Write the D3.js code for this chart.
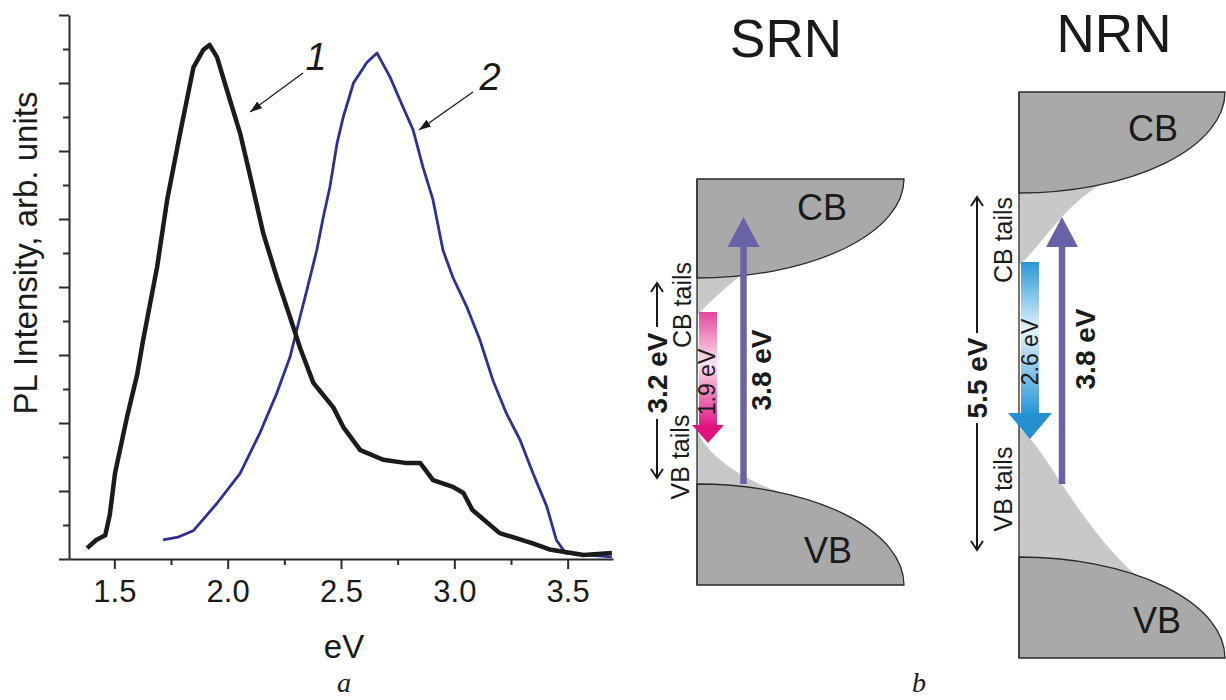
<!DOCTYPE html>
<html>
<head>
<meta charset="utf-8">
<script src="https://cdn.jsdelivr.net/npm/d3@7"></script>
<style>
  body { margin: 0; background: #fff; }
  text { font-family: "Liberation Sans", Arial, sans-serif; fill: #1a1a1a; }
</style>
</head>
<body>
<script>
//////////////////////////////////////////////////////////////////////////////
// Data

// curve 1 (black)
var eV1 = [1.38, 1.42, 1.46, 1.48, 1.503, 1.556, 1.60, 1.627, 1.689, 1.733,
           1.79, 1.849, 1.893, 1.92, 1.953, 2.01, 2.055, 2.1, 2.157, 2.217,
           2.275, 2.32, 2.378, 2.41, 2.466, 2.51, 2.585, 2.686, 2.79, 2.85,
           2.906, 2.994, 3.04, 3.08, 3.2, 3.346, 3.42, 3.57, 3.695];
var pl1 = [0.16, 0.28, 0.35, 0.65, 1.26, 2.09, 2.70, 3.22, 4.30, 5.28,
           6.26, 7.23, 7.49, 7.56, 7.38, 6.75, 6.26, 5.62, 4.79, 4.14,
           3.56, 3.10, 2.59, 2.46, 2.23, 1.94, 1.60, 1.46, 1.41, 1.41,
           1.16, 1.06, 0.97, 0.72, 0.38, 0.23, 0.14, 0.06, 0.09];

// curve 2 (blue)
var eV2 = [1.715, 1.78, 1.85, 1.953, 2.055, 2.143, 2.217, 2.275, 2.32, 2.35,
           2.393, 2.422, 2.451, 2.483, 2.51, 2.555, 2.614, 2.659, 2.716, 2.76,
           2.818, 2.862, 2.906, 2.95, 2.994, 3.056, 3.113, 3.17, 3.23, 3.29,
           3.347, 3.408, 3.45, 3.49, 3.57, 3.695];
var pl2 = [0.28, 0.32, 0.42, 0.82, 1.26, 1.86, 2.44, 2.97, 3.57, 3.96,
           4.54, 5.03, 5.47, 6.12, 6.50, 7.00, 7.30, 7.44, 7.09, 6.75,
           6.31, 5.76, 5.28, 4.54, 4.14, 3.70, 3.22, 2.63, 2.14, 1.75,
           1.26, 0.77, 0.28, 0.09, 0.06, 0.03];

var xTicks = [1.5, 2.0, 2.5, 3.0, 3.5];
var xMinor = [1.75, 2.25, 2.75, 3.25];
var yMajor = [0, 1, 2, 3, 4, 5, 6, 7, 8];
var yMinor = [0.5, 1.5, 2.5, 3.5, 4.5, 5.5, 6.5, 7.5];

var curveLabels = ["1", "2"];
var panelLetters = ["a", "b"];

var panels = ["SRN", "NRN"];
var bandNames = ["CB", "VB"];
var tailNames = ["CB tails", "VB tails"];
var gapLabels = ["3.2 eV", "5.5 eV"];
var emissionLabels = ["1.9 eV", "2.6 eV"];
var excitationLabel = "3.8 eV";

//////////////////////////////////////////////////////////////////////////////
// Preliminaries

var W = 1226, H = 700;
var svg = d3.select("body").append("svg").attr("width", W).attr("height", H);
var defs = svg.append("defs");

var xScale = d3.scaleLinear().domain([1.3, 3.7]).range([69, 613]);
var yScale = d3.scaleLinear().domain([0, 8]).range([559, 15]);

function styleAxis(g) {
    g.selectAll("path, line").attr("stroke", "#2b2b2b").attr("stroke-width", 2);
}

//////////////////////////////////////////////////////////////////////////////
// Panel a: PL spectra

var yAxis = svg.append("g").attr("transform", "translate(69,0)")
    .call(d3.axisLeft(yScale).tickValues(yMajor).tickSize(10).tickSizeOuter(0).tickFormat(""));
yAxis.call(styleAxis);
svg.append("g").attr("transform", "translate(69,0)")
    .call(d3.axisLeft(yScale).tickValues(yMinor).tickSize(6).tickFormat(""))
    .call(function(g) { g.select(".domain").remove(); })
    .call(styleAxis);

var xAxis = svg.append("g").attr("transform", "translate(0,559)")
    .call(d3.axisBottom(xScale).tickValues(xTicks).tickSize(10).tickSizeOuter(0)
          .tickPadding(11).tickFormat(d3.format(".1f")));
xAxis.call(styleAxis);
xAxis.selectAll("text").attr("font-size", 31).attr("font-family", "Liberation Sans, Arial, sans-serif").attr("fill", "#1a1a1a");
svg.append("g").attr("transform", "translate(0,559)")
    .call(d3.axisBottom(xScale).tickValues(xMinor).tickSize(6).tickFormat(""))
    .call(function(g) { g.select(".domain").remove(); })
    .call(styleAxis);

svg.append("text")
    .attr("transform", "translate(37,253) rotate(-90)")
    .attr("text-anchor", "middle").attr("font-size", 33)
    .text("PL Intensity, arb. units");
svg.append("text").attr("x", 344).attr("y", 658)
    .attr("text-anchor", "middle").attr("font-size", 33).text("eV");

var line = d3.line()
    .x(function(d) { return xScale(d[0]); })
    .y(function(d) { return yScale(d[1]); });

svg.append("path")
    .datum(d3.zip(eV2, pl2))
    .attr("d", line)
    .attr("fill", "none").attr("stroke", "#2e3192").attr("stroke-width", 2.8)
    .attr("stroke-linejoin", "round");
svg.append("path")
    .datum(d3.zip(eV1, pl1))
    .attr("d", line)
    .attr("fill", "none").attr("stroke", "#1b1b1b").attr("stroke-width", 4.5)
    .attr("stroke-linejoin", "round");

// pointer arrows for curve numbers
defs.append("marker").attr("id", "head")
    .attr("viewBox", "0 0 10 10").attr("refX", 10).attr("refY", 5)
    .attr("markerWidth", 12).attr("markerHeight", 12).attr("markerUnits", "userSpaceOnUse")
    .attr("orient", "auto")
    .append("path").attr("d", "M0,1.5 L10,5 L0,8.5 Z").attr("fill", "#1a1a1a");

var pointers = [
    { from: [303, 73], to: [250, 112], lx: 316, ly: 70 },
    { from: [473, 92], to: [419, 130], lx: 490, ly: 90 }
];
pointers.forEach(function(p, i) {
    svg.append("line")
        .attr("x1", p.from[0]).attr("y1", p.from[1])
        .attr("x2", p.to[0]).attr("y2", p.to[1])
        .attr("stroke", "#1a1a1a").attr("stroke-width", 1.3)
        .attr("marker-end", "url(#head)");
    svg.append("text").attr("x", p.lx).attr("y", p.ly)
        .attr("text-anchor", "middle").attr("font-size", 38).attr("font-style", "italic")
        .text(curveLabels[i]);
});

//////////////////////////////////////////////////////////////////////////////
// Panel b: band diagrams

function vGrad(id, stops) {
    var g = defs.append("linearGradient").attr("id", id)
        .attr("x1", 0).attr("y1", 0).attr("x2", 0).attr("y2", 1);
    stops.forEach(function(s) {
        g.append("stop").attr("offset", s[0]).attr("stop-color", s[1]);
    });
}
vGrad("pinkGrad", [[0, "#e4479b"], [0.45, "#fbe2ee"], [1, "#e11b84"]]);
vGrad("blueGrad", [[0, "#2898d6"], [0.45, "#e4f3fb"], [1, "#2896d6"]]);

var layout = [
    { x0: 697, rx: 207, cbTop: 179, cbBot: 278, vbTop: 484, vbBot: 585,
      titleX: 786, titleY: 57, cbLabel: [822, 220], vbLabel: [828, 563],
      cbTail: { ex: 740, c1: [722, 291], c2: [705, 306], end: 316 },
      vbTail: { start: 430, c1: [705, 452], c2: [735, 476], ex: 780 },
      emit: { x: 699, w: 18, top: 312, base: 425, hw: 16, tip: 443, grad: "pinkGrad", head: "#e0127f",
              label: [707, 382] },
      exc: { x: 743.5, bottom: 484, label: [761, 370] },
      gap: { x: 657, top: 283, bot: 478, label: 373, half: 46 },
      tails: [[682, 305], [680, 457]] },
    { x0: 1019, rx: 206, cbTop: 92, cbBot: 193, vbTop: 557, vbBot: 658,
      titleX: 1114, titleY: 52, cbLabel: [1153, 141], vbLabel: [1157, 633],
      cbTail: { ex: 1100, c1: [1060, 210], c2: [1040, 248], end: 265 },
      vbTail: { start: 428, c1: [1045, 446], c2: [1075, 520], ex: 1135 },
      emit: { x: 1021, w: 18, top: 262, base: 413, hw: 22, tip: 439, grad: "blueGrad", head: "#2490d0",
              label: [1030, 352] },
      exc: { x: 1062, bottom: 484, label: [1085, 349] },
      gap: { x: 977, top: 197, bot: 550, label: 378, half: 45 },
      tails: [[1003, 240], [1003, 489]] }
];

var dark = "#a9a9a9", light = "#c8c8c8", edge = "#2a2a2a", purple = "#6a62a6";

function drawPanel(i) {
    var L = layout[i];
    var g = svg.append("g");
    var ryC = L.cbBot - L.cbTop, ryV = L.vbBot - L.vbTop;
    function cbY(px) { var t = (px - L.x0) / L.rx; return L.cbTop + ryC * Math.sqrt(1 - t * t); }
    function vbY(px) { var t = (px - L.x0) / L.rx; return L.vbBot - ryV * Math.sqrt(1 - t * t); }

    // tails (drawn first, bands cover their upper/lower parts)
    var ct = L.cbTail, vt = L.vbTail;
    g.append("path").attr("fill", light).attr("d",
        "M" + L.x0 + "," + (L.cbTop + 40) + " L" + ct.ex + "," + (L.cbTop + 40) +
        " L" + ct.ex + "," + cbY(ct.ex) +
        " C" + ct.c1 + " " + ct.c2 + " " + L.x0 + "," + ct.end + " Z");
    g.append("path").attr("fill", light).attr("d",
        "M" + L.x0 + "," + vt.start +
        " C" + vt.c1 + " " + vt.c2 + " " + vt.ex + "," + vbY(vt.ex) +
        " L" + vt.ex + "," + (L.vbBot - 40) + " L" + L.x0 + "," + (L.vbBot - 40) + " Z");

    // bands
    g.append("path").attr("fill", dark).attr("stroke", edge).attr("stroke-width", 1.3)
        .attr("d", "M" + L.x0 + "," + L.cbTop + " L" + (L.x0 + L.rx) + "," + L.cbTop +
            " A" + L.rx + "," + ryC + " 0 0 1 " + L.x0 + "," + L.cbBot + " Z");
    g.append("path").attr("fill", dark).attr("stroke", edge).attr("stroke-width", 1.3)
        .attr("d", "M" + L.x0 + "," + L.vbTop +
            " A" + L.rx + "," + ryV + " 0 0 1 " + (L.x0 + L.rx) + "," + L.vbBot +
            " L" + L.x0 + "," + L.vbBot + " Z");
    g.append("line").attr("x1", L.x0).attr("x2", L.x0)
        .attr("y1", L.cbTop).attr("y2", L.vbBot)
        .attr("stroke", edge).attr("stroke-width", 1.3);

    g.append("text").attr("x", L.cbLabel[0]).attr("y", L.cbLabel[1])
        .attr("text-anchor", "middle").attr("font-size", 36).text(bandNames[0]);
    g.append("text").attr("x", L.vbLabel[0]).attr("y", L.vbLabel[1])
        .attr("text-anchor", "middle").attr("font-size", 36).text(bandNames[1]);

    // excitation arrow (3.8 eV)
    g.append("line").attr("x1", L.exc.x).attr("x2", L.exc.x)
        .attr("y1", L.exc.bottom).attr("y2", 246)
        .attr("stroke", purple).attr("stroke-width", 6.5);
    g.append("path").attr("fill", purple)
        .attr("d", "M" + (L.exc.x - 16) + ",247 L" + (L.exc.x + 16) + ",247 L" + L.exc.x + ",217 Z");
    g.append("text")
        .attr("transform", "translate(" + L.exc.label[0] + "," + L.exc.label[1] + ") rotate(-90)")
        .attr("text-anchor", "middle").attr("dy", "0.36em")
        .attr("font-size", 28).attr("font-weight", "bold").text(excitationLabel);

    // emission arrow
    var e = L.emit, cx = e.x + e.w / 2;
    g.append("rect").attr("x", e.x).attr("y", e.top)
        .attr("width", e.w).attr("height", e.base - e.top)
        .attr("fill", "url(#" + e.grad + ")");
    g.append("path").attr("fill", e.head)
        .attr("d", "M" + (cx - e.hw) + "," + e.base + " L" + (cx + e.hw) + "," + e.base +
            " L" + cx + "," + e.tip + " Z");
    g.append("text")
        .attr("transform", "translate(" + e.label[0] + "," + e.label[1] + ") rotate(-90)")
        .attr("text-anchor", "middle").attr("dy", "0.36em")
        .attr("font-size", 23).text(emissionLabels[i]);

    // gap double arrow
    var gp = L.gap;
    g.append("line").attr("x1", gp.x).attr("x2", gp.x)
        .attr("y1", gp.top).attr("y2", gp.label - gp.half)
        .attr("stroke", "#1a1a1a").attr("stroke-width", 2);
    g.append("line").attr("x1", gp.x).attr("x2", gp.x)
        .attr("y1", gp.label + gp.half).attr("y2", gp.bot)
        .attr("stroke", "#1a1a1a").attr("stroke-width", 2);
    g.append("path").attr("fill", "none").attr("stroke", "#1a1a1a").attr("stroke-width", 2)
        .attr("d", "M" + (gp.x - 6) + "," + (gp.top + 9) + " L" + gp.x + "," + gp.top +
            " L" + (gp.x + 6) + "," + (gp.top + 9) +
            " M" + (gp.x - 6) + "," + (gp.bot - 9) + " L" + gp.x + "," + gp.bot +
            " L" + (gp.x + 6) + "," + (gp.bot - 9));
    g.append("text")
        .attr("transform", "translate(" + gp.x + "," + gp.label + ") rotate(-90)")
        .attr("text-anchor", "middle").attr("dy", "0.36em")
        .attr("font-size", 28).attr("font-weight", "bold").text(gapLabels[i]);

    L.tails.forEach(function(t, k) {
        g.append("text")
            .attr("transform", "translate(" + t[0] + "," + t[1] + ") rotate(-90)")
            .attr("text-anchor", "middle").attr("dy", "0.36em")
            .attr("font-size", 25).text(tailNames[k]);
    });

    g.append("text").attr("x", L.titleX).attr("y", L.titleY)
        .attr("text-anchor", "middle").attr("font-size", 53).text(panels[i]);
}

panels.forEach(function(p, i) { drawPanel(i); });

// panel letters
[[344, 692], [919, 692]].forEach(function(pos, i) {
    svg.append("text").attr("x", pos[0]).attr("y", pos[1])
        .attr("text-anchor", "middle").attr("font-size", 28)
        .attr("font-style", "italic").style("font-family", "Liberation Serif, Times New Roman, serif")
        .text(panelLetters[i]);
});
</script>
</body>
</html>
